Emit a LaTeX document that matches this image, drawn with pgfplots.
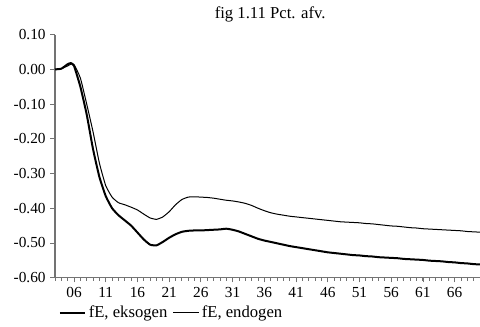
\documentclass[border=0pt]{standalone}
\usepackage{fontspec}
\setmainfont{Liberation Serif}
\usepackage{pgfplots}
\pgfplotsset{compat=1.18}
\usepackage{pgfplotstable}
\pgfplotstableread{
year eks endo
2003 0.000 0.000
2004 0.002 0.002
2005 0.015 0.010
2005.5 0.018 0.015
2006 0.010 0.014
2007 -0.050 -0.025
2008 -0.130 -0.100
2009 -0.230 -0.180
2010 -0.310 -0.270
2011 -0.365 -0.335
2012 -0.400 -0.368
2013 -0.420 -0.384
2014 -0.435 -0.390
2015 -0.450 -0.397
2016 -0.470 -0.405
2017 -0.490 -0.417
2018 -0.505 -0.428
2019 -0.507 -0.432
2020 -0.497 -0.425
2021 -0.485 -0.410
2022 -0.475 -0.390
2023 -0.468 -0.375
2024 -0.465 -0.368
2025 -0.464 -0.367
2026 -0.464 -0.368
2027 -0.463 -0.369
2028 -0.462 -0.371
2029 -0.461 -0.374
2030 -0.459 -0.377
2031 -0.462 -0.379
2032 -0.467 -0.382
2033 -0.474 -0.386
2034 -0.481 -0.392
2035 -0.488 -0.400
2036 -0.493 -0.407
2037 -0.497 -0.413
2038 -0.501 -0.417
2039 -0.505 -0.420
2040 -0.509 -0.423
2041 -0.512 -0.425
2042 -0.515 -0.427
2043 -0.518 -0.429
2044 -0.521 -0.431
2045 -0.524 -0.433
2046 -0.527 -0.435
2047 -0.529 -0.437
2048 -0.531 -0.439
2049 -0.533 -0.440
2050 -0.535 -0.441
2051 -0.536 -0.442
2052 -0.538 -0.444
2053 -0.539 -0.445
2054 -0.541 -0.447
2055 -0.542 -0.449
2056 -0.543 -0.451
2057 -0.544 -0.452
2058 -0.546 -0.454
2059 -0.547 -0.456
2060 -0.548 -0.457
2061 -0.549 -0.459
2062 -0.551 -0.460
2063 -0.552 -0.461
2064 -0.553 -0.462
2065 -0.555 -0.463
2066 -0.556 -0.464
2067 -0.558 -0.465
2068 -0.559 -0.467
2069 -0.561 -0.468
2070 -0.562 -0.469
}\data
\begin{document}
\begin{tikzpicture}
\useasboundingbox (-41.25pt,-37pt) rectangle (318.75pt,208.25pt);
\begin{axis}[
  at={(0,0)}, anchor=south west,
  scale only axis,
  width=318.75pt, height=182.25pt,
  xmin=2003, xmax=2070,
  ymin=-0.6, ymax=0.1,
  axis x line=bottom, axis y line=left,
  axis line style={-, black!55, line width=0.8pt},
  tick style={black!55, line width=0.6pt},
  tick align=outside,
  major tick length=3.5pt, minor tick length=2.5pt,
  xtick={2006,2011,...,2066},
  xticklabels={06,11,16,21,26,31,36,41,46,51,56,61,66},
  minor xtick={2003,...,2070},
  ytick={-0.6,-0.5,...,0.1},
  yticklabels={-0.60,-0.50,-0.40,-0.30,-0.20,-0.10,0.00,0.10},
  ticklabel style={font=\fontsize{11.5}{13}\selectfont},
  xticklabel style={yshift=-0.5pt},
  every axis title shift=0pt,
  title={fig 1.11 Pct. afv.},
  title style={at={(0.5,1)}, anchor=center, yshift=15.5pt, xshift=2pt, font=\fontsize{12.5}{14}\selectfont},
  legend columns=2,
  legend style={at={(0.275,0)}, anchor=center, yshift=-26.5pt, draw=none, fill=none,
    font=\fontsize{12.5}{14}\selectfont, inner sep=0pt,
    /tikz/every even column/.append style={column sep=2pt}},
  legend image code/.code={\draw[#1] (0pt,0pt) -- (19pt,0pt);},
  clip=false,
]
\addplot[black, line width=1.5pt, smooth, tension=0.3] table[x=year,y=eks] {\data};
\addlegendentry{fE, eksogen}
\addplot[black, line width=0.75pt, smooth, tension=0.3] table[x=year,y=endo] {\data};
\addlegendentry{fE, endogen}
\end{axis}
\end{tikzpicture}
\end{document}
